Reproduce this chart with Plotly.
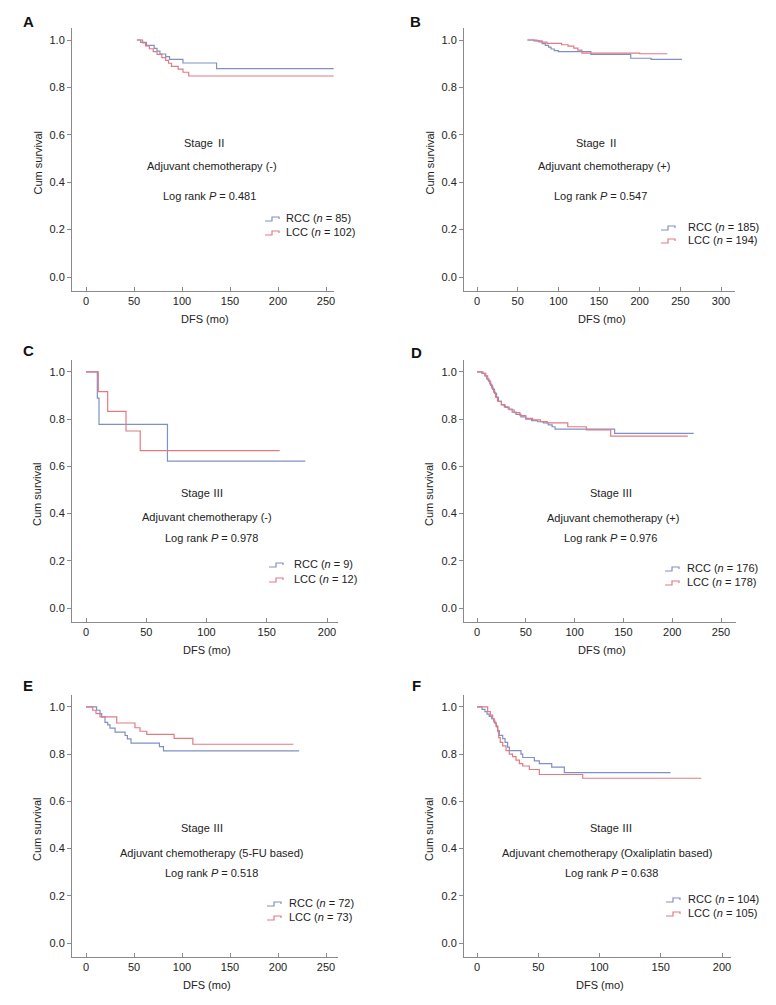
import plotly.graph_objects as go

W, H = 776, 1005
PAGE_OFF = 8  # default body margin of the html page

# ---------------- data ----------------
panel_letters = ["A", "B", "C", "D", "E", "F"]
stage_numerals = ["Ⅱ", "Ⅱ", "Ⅲ", "Ⅲ", "Ⅲ", "Ⅲ"]
chemo_labels = ["Adjuvant chemotherapy (-)", "Adjuvant chemotherapy (+)",
                "Adjuvant chemotherapy (-)", "Adjuvant chemotherapy (+)",
                "Adjuvant chemotherapy (5-FU based)", "Adjuvant chemotherapy (Oxaliplatin based)"]
p_values = ["0.481", "0.547", "0.978", "0.976", "0.518", "0.638"]
rcc_n = [85, 185, 9, 176, 72, 104]
lcc_n = [102, 194, 12, 178, 73, 105]
x_tick_max = [250, 300, 200, 250, 250, 200]
y_ticks = [0.0, 0.2, 0.4, 0.6, 0.8, 1.0]

A_RCC_t = [53, 57, 63, 71, 74, 77, 83, 87, 101, 136]
A_RCC_s = [1.0, 0.99, 0.977, 0.965, 0.953, 0.941, 0.93, 0.918, 0.903, 0.879]
A_RCC_end = 258
A_LCC_t = [53, 59, 62, 66, 70, 74, 79, 83, 86, 89, 96, 101, 107]
A_LCC_s = [1.0, 0.988, 0.975, 0.963, 0.951, 0.939, 0.926, 0.914, 0.902, 0.889, 0.877, 0.864, 0.848]
A_LCC_end = 258

B_RCC_t = [62, 70, 76, 80, 84, 88, 91, 95, 100, 140, 189, 214]
B_RCC_s = [1.0, 0.996, 0.992, 0.985, 0.977, 0.97, 0.962, 0.955, 0.951, 0.939, 0.923, 0.918]
B_RCC_end = 252
B_LCC_t = [62, 74, 80, 86, 104, 112, 119, 124, 129, 200]
B_LCC_s = [1.0, 0.996, 0.991, 0.986, 0.98, 0.974, 0.966, 0.957, 0.945, 0.942]
B_LCC_end = 234

C_RCC_t = [0, 9.4, 10.8, 67.6]
C_RCC_s = [1.0, 0.889, 0.778, 0.622]
C_RCC_end = 182
C_LCC_t = [0, 10.2, 18, 33.2, 45]
C_LCC_s = [1.0, 0.917, 0.833, 0.75, 0.667]
C_LCC_end = 160.7

D_RCC_t = [0, 5, 8, 10, 12, 14, 16, 18, 20, 22, 25, 28, 32, 36, 40, 45, 50, 56, 62, 68, 73, 77, 80, 141]
D_RCC_s = [1.0, 0.994, 0.983, 0.971, 0.96, 0.943, 0.926, 0.909, 0.892, 0.875, 0.862, 0.852, 0.843,
           0.83, 0.82, 0.81, 0.8, 0.794, 0.789, 0.784, 0.776, 0.768, 0.758, 0.74]
D_RCC_end = 222
D_LCC_t = [0, 6, 9, 11, 13, 15, 17, 19, 21, 25, 29, 33, 38, 44, 50, 57, 65, 72, 93, 112, 137]
D_LCC_s = [1.0, 0.994, 0.983, 0.966, 0.949, 0.932, 0.914, 0.893, 0.876, 0.86, 0.85, 0.84, 0.828,
           0.815, 0.803, 0.797, 0.79, 0.784, 0.768, 0.755, 0.728]
D_LCC_end = 216

E_RCC_t = [0, 11, 14.6, 16.3, 19.8, 22.6, 25, 30.3, 40.7, 43.1, 46.9, 76.5, 80.7]
E_RCC_s = [1.0, 0.986, 0.972, 0.958, 0.935, 0.924, 0.91, 0.893, 0.879, 0.865, 0.847, 0.832, 0.814]
E_RCC_end = 222
E_LCC_t = [0, 7, 10.4, 14.6, 32, 51, 56.3, 63.3, 91.8, 111.3]
E_LCC_s = [1.0, 0.986, 0.972, 0.958, 0.932, 0.912, 0.897, 0.884, 0.867, 0.842]
E_LCC_end = 216

F_RCC_t = [0, 4.1, 6.5, 8.2, 10, 12, 13.6, 14.7, 15.8, 16.9, 18.2, 21, 22.9, 25, 26.4, 35.9, 37.3,
           46.8, 50.9, 61, 71.3]
F_RCC_s = [1.0, 0.99, 0.98, 0.97, 0.96, 0.95, 0.94, 0.93, 0.915, 0.9, 0.88, 0.866, 0.85, 0.83,
           0.815, 0.8, 0.786, 0.772, 0.76, 0.745, 0.722]
F_RCC_end = 158
F_LCC_t = [0, 8.7, 10.9, 12.8, 14.1, 15.5, 16.9, 17.7, 19, 21, 23.7, 26.4, 29, 31.8, 34.6, 37.3,
           42.7, 50.9, 86.3]
F_LCC_s = [1.0, 0.98, 0.965, 0.95, 0.935, 0.92, 0.895, 0.87, 0.85, 0.835, 0.815, 0.8, 0.79, 0.775,
           0.76, 0.75, 0.735, 0.714, 0.698]
F_LCC_end = 183

curves = [
    (A_RCC_t, A_RCC_s, A_RCC_end, A_LCC_t, A_LCC_s, A_LCC_end),
    (B_RCC_t, B_RCC_s, B_RCC_end, B_LCC_t, B_LCC_s, B_LCC_end),
    (C_RCC_t, C_RCC_s, C_RCC_end, C_LCC_t, C_LCC_s, C_LCC_end),
    (D_RCC_t, D_RCC_s, D_RCC_end, D_LCC_t, D_LCC_s, D_LCC_end),
    (E_RCC_t, E_RCC_s, E_RCC_end, E_LCC_t, E_LCC_s, E_LCC_end),
    (F_RCC_t, F_RCC_s, F_RCC_end, F_LCC_t, F_LCC_s, F_LCC_end),
]

# ---------------- layout geometry (page pixels) ----------------
boxes = [
    dict(l=72, r=334, t=28, b=291, x0=86, sc=0.96),
    dict(l=464, r=735, t=28, b=291, x0=477, sc=244 / 300),
    dict(l=72, r=338, t=360, b=622, x0=86, sc=1.205),
    dict(l=464, r=736, t=360, b=622, x0=477, sc=0.976),
    dict(l=72, r=338, t=695, b=957, x0=86, sc=0.96),
    dict(l=464, r=731, t=695, b=957, x0=477, sc=1.225),
]
texts = [
    dict(st=(205, 142), ch=(212, 166), lr=(209, 196), ly=(218, 232), gx=265, tx=284, lab=(28, 22)),
    dict(st=(597, 142), ch=(604, 166), lr=(600, 196), ly=(227, 240), gx=661, tx=686, lab=(415, 22)),
    dict(st=(202, 492), ch=(207, 517), lr=(211, 538), ly=(564, 579), gx=269, tx=292, lab=(28, 351)),
    dict(st=(611, 492), ch=(613, 518), lr=(610, 538), ly=(568, 582), gx=665, tx=685, lab=(416, 352)),
    dict(st=(202, 827), ch=(211, 853), lr=(211, 873), ly=(903, 917), gx=267, tx=287, lab=(28, 685)),
    dict(st=(611, 827), ch=(607, 853), lr=(611, 873), ly=(899, 913), gx=666, tx=686, lab=(416, 685)),
]

RCC_COLOR = "#8090c4"
LCC_COLOR = "#e27a84"
AXIS_COLOR = "#8a8a8a"
TEXT_COLOR = "#222222"
FONT = "Liberation Sans"

FW, FH = W - PAGE_OFF, H - PAGE_OFF


def px(x):
    return (x - PAGE_OFF) / FW


def py(y):
    return 1 - (y - PAGE_OFF) / FH


fig = go.Figure()
annotations = []
shapes = []

y_lo = -14 / 237
y_hi = 1 + 12 / 237


def ann(text, x, y, xanchor="center", size=11, bold=False, angle=0):
    annotations.append(dict(
        text=f"<b>{text}</b>" if bold else text, x=px(x), y=py(y),
        xref="paper", yref="paper", xanchor=xanchor, yanchor="middle",
        showarrow=False, textangle=angle,
        font=dict(family=FONT, size=size, color="#111111" if bold else TEXT_COLOR)))


for i in range(6):
    b = boxes[i]
    tx = texts[i]
    xa = "x" if i == 0 else f"x{i + 1}"
    ya = "y" if i == 0 else f"y{i + 1}"
    rt, rs, rend, lt, ls, lend = curves[i]
    fig.add_trace(go.Scatter(x=list(rt) + [rend], y=list(rs) + [rs[-1]], mode="lines",
                             line=dict(shape="hv", color=RCC_COLOR, width=1.2),
                             xaxis=xa, yaxis=ya, showlegend=False, hoverinfo="skip"))
    fig.add_trace(go.Scatter(x=list(lt) + [lend], y=list(ls) + [ls[-1]], mode="lines",
                             line=dict(shape="hv", color=LCC_COLOR, width=1.2),
                             xaxis=xa, yaxis=ya, showlegend=False, hoverinfo="skip"))

    xr = [(b["l"] - b["x0"]) / b["sc"], (b["r"] - b["x0"]) / b["sc"]]
    xkey = "xaxis" if i == 0 else f"xaxis{i + 1}"
    ykey = "yaxis" if i == 0 else f"yaxis{i + 1}"
    fig.layout[xkey] = dict(
        domain=[px(b["l"]), px(b["r"])], range=xr, anchor=ya,
        tickmode="array", tickvals=list(range(0, x_tick_max[i] + 1, 50)),
        ticks="inside", ticklen=4, tickcolor=AXIS_COLOR,
        showline=True, linecolor=AXIS_COLOR, linewidth=1,
        showgrid=False, zeroline=False, fixedrange=True,
        tickfont=dict(family=FONT, size=11, color=TEXT_COLOR),
    )
    fig.layout[ykey] = dict(
        domain=[py(b["b"]), py(b["t"])], range=[y_lo, y_hi], anchor=xa,
        tickmode="array", tickvals=y_ticks, ticktext=[f"{v:.1f}" for v in y_ticks],
        ticks="outside", ticklen=4, tickcolor=AXIS_COLOR,
        showline=True, linecolor=AXIS_COLOR, linewidth=1,
        showgrid=False, zeroline=False, fixedrange=True,
        tickfont=dict(family=FONT, size=11, color=TEXT_COLOR),
    )

    ann(panel_letters[i], tx["lab"][0], tx["lab"][1], size=15, bold=True)
    ann(f"Stage <span style=\"font-family:'Noto Sans CJK SC'\">{stage_numerals[i]}</span>", *tx["st"])
    ann(chemo_labels[i], *tx["ch"])
    ann(f"Log rank <i>P</i> = {p_values[i]}", *tx["lr"])
    ann(f"RCC (<i>n</i> = {rcc_n[i]})", tx["tx"], tx["ly"][0], xanchor="left")
    ann(f"LCC (<i>n</i> = {lcc_n[i]})", tx["tx"], tx["ly"][1], xanchor="left")
    ann("Cum survival", b["l"] - 35, (b["t"] + b["b"]) / 2 + 3, angle=-90)
    ann("DFS (mo)", (b["l"] + b["r"]) / 2 + 2, b["b"] + 28)

    for col, yy in ((RCC_COLOR, tx["ly"][0]), (LCC_COLOR, tx["ly"][1])):
        g0, gm, g1 = tx["gx"], tx["gx"] + 7, tx["gx"] + 14
        path = (f"M {px(g0)},{py(yy + 3)} L {px(gm)},{py(yy + 3)} L {px(gm)},{py(yy - 1)} "
                f"L {px(g1)},{py(yy - 1)} L {px(g1)},{py(yy + 1)}")
        shapes.append(dict(type="path", xref="paper", yref="paper", path=path,
                           line=dict(color=col, width=1.2)))

fig.update_layout(
    width=FW, height=FH, margin=dict(l=0, r=0, t=0, b=0),
    paper_bgcolor="white", plot_bgcolor="white",
    annotations=annotations, shapes=shapes, showlegend=False,
    font=dict(family=FONT, size=11, color=TEXT_COLOR),
)

fig.write_html("out.html")
